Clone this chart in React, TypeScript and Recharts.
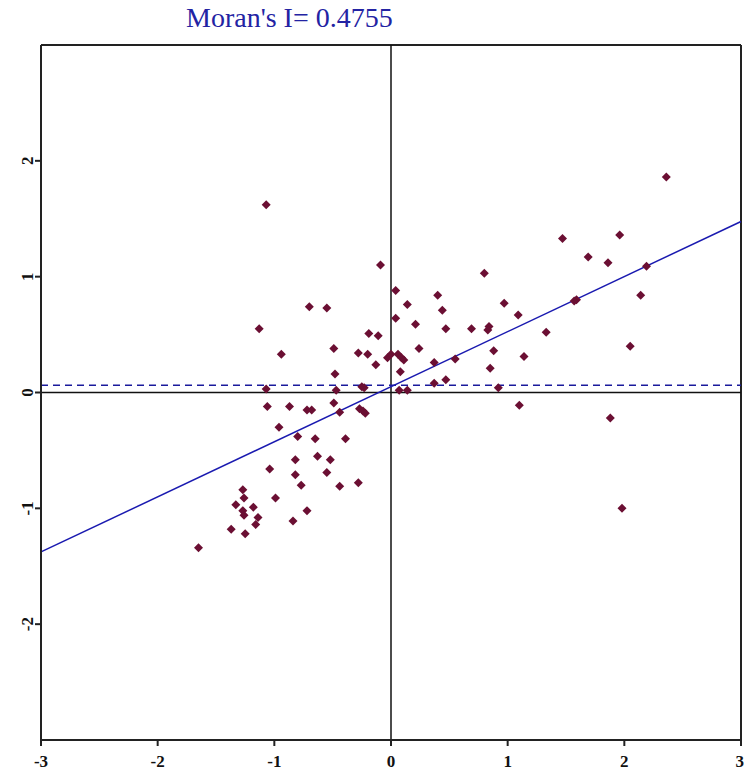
import React from 'react'
import { ScatterChart, Scatter, XAxis, YAxis, ReferenceLine } from 'recharts'

// Moran scatter: standardized value (x) vs spatial lag (y)
const xValues = [
  2.36, -1.07, 1.47, 1.96, 1.69, 1.86, 2.19, 0.8, -0.09, 2.14,
  1.59, 1.57, 0.97, 1.09, 0.69, 0.84, 0.83, 1.33, 0.88, 1.14,
  0.55, 0.85, 0.92, 1.1, 2.05, 1.88, 1.98, 0.04, 0.4, 0.14,
  0.44, -0.7, -0.55, 0.04, 0.21, 0.47, -1.13, -0.19, -0.11, -0.94,
  -0.49, -0.28, -0.2, 0.24, -0.03, 0.0, 0.06, 0.09, 0.11, -0.13,
  0.37, -0.48, 0.08, 0.37, 0.47, -1.07, -0.47, -0.25, -0.23, 0.07,
  0.14, -1.06, -0.87, -0.72, -0.68, -0.49, -0.44, -0.27, -0.24, -0.22,
  -0.96, -0.8, -0.65, -0.39, -0.82, -0.63, -0.52, -1.04, -0.82, -0.55,
  -0.77, -0.44, -0.28, -1.27, -1.26, -0.99, -1.33, -1.18, -1.27, -1.26,
  -1.14, -1.16, -0.72, -0.84, -1.37, -1.25, -1.65,
]
const yValues = [
  1.86, 1.62, 1.33, 1.36, 1.17, 1.12, 1.09, 1.03, 1.1, 0.84,
  0.8, 0.79, 0.77, 0.67, 0.55, 0.57, 0.54, 0.52, 0.36, 0.31,
  0.29, 0.21, 0.04, -0.11, 0.4, -0.22, -1.0, 0.88, 0.84, 0.76,
  0.71, 0.74, 0.73, 0.64, 0.59, 0.55, 0.55, 0.51, 0.49, 0.33,
  0.38, 0.34, 0.33, 0.38, 0.3, 0.33, 0.33, 0.3, 0.28, 0.24,
  0.26, 0.16, 0.18, 0.08, 0.11, 0.03, 0.02, 0.05, 0.04, 0.02,
  0.02, -0.12, -0.12, -0.15, -0.15, -0.09, -0.17, -0.14, -0.16, -0.18,
  -0.3, -0.38, -0.4, -0.4, -0.58, -0.55, -0.58, -0.66, -0.71, -0.69,
  -0.8, -0.81, -0.78, -0.84, -0.91, -0.91, -0.97, -0.99, -1.02, -1.06,
  -1.08, -1.14, -1.02, -1.11, -1.18, -1.22, -1.34,
]
const xTicks = [-3, -2, -1, 0, 1, 2, 3]
const yTicks = [-2, -1, 0, 1, 2]
const moransI = 0.4755
const intercept = 0.05
const lagMean = 0.063

const data = xValues.map((x, i) => ({ x, y: yValues[i] }))

const font = '"Liberation Serif", "Times New Roman", serif'

const Diamond = (props: any) => {
  const { cx, cy } = props
  const r = 4.5
  return <path d={`M${cx},${cy - r}L${cx + r},${cy}L${cx},${cy + r}L${cx - r},${cy}Z`} fill="#6b0f33" />
}

const YTick = (props: any) => {
  const { x, y, payload } = props
  return (
    <text x={x} y={y} transform={`rotate(-90 ${x} ${y})`} textAnchor="middle" fontSize={17} fontWeight="bold" fontFamily={font} fill="#111">
      {payload.value}
    </text>
  )
}

export default function App() {
  return (
    <div style={{ position: 'absolute', left: 0, top: 0, width: 744, height: 776, background: '#fff' }}>
      <div style={{ position: 'absolute', left: 186, top: 4, fontFamily: font, fontSize: 28, lineHeight: '28px', color: '#2323a3', whiteSpace: 'nowrap' }}>
        Moran's I= {moransI}
      </div>
      <ScatterChart width={744} height={776} margin={{ top: 45, right: 3, bottom: 6, left: 11 }}>
        <XAxis
          type="number"
          dataKey="x"
          domain={[-3, 3]}
          ticks={xTicks}
          allowDataOverflow
          tickSize={6}
          tickMargin={9}
          height={30}
          axisLine={{ stroke: '#222', strokeWidth: 2 }}
          tickLine={{ stroke: '#222', strokeWidth: 2 }}
          tick={{ fontSize: 17, fontWeight: 'bold', fontFamily: font, fill: '#111' }}
        />
        <YAxis
          type="number"
          dataKey="y"
          domain={[-3, 3]}
          ticks={yTicks}
          allowDataOverflow
          tickSize={6}
          tickMargin={2}
          width={30}
          axisLine={{ stroke: '#222', strokeWidth: 2 }}
          tickLine={{ stroke: '#222', strokeWidth: 2 }}
          tick={<YTick />}
        />
        <ReferenceLine y={3} stroke="#222" strokeWidth={2} />
        <ReferenceLine x={3} stroke="#222" strokeWidth={2} />
        <ReferenceLine x={0} stroke="#111" strokeWidth={1.5} />
        <ReferenceLine y={0} stroke="#111" strokeWidth={1.5} />
        <ReferenceLine y={lagMean} stroke="#1a1a9c" strokeWidth={1.5} strokeDasharray="7 5" />
        <ReferenceLine
          segment={[
            { x: -3, y: intercept - 3 * moransI },
            { x: 3, y: intercept + 3 * moransI },
          ]}
          stroke="#1a1ab0"
          strokeWidth={1.5}
        />
        <Scatter data={data} shape={<Diamond />} isAnimationActive={false} />
      </ScatterChart>
    </div>
  )
}
